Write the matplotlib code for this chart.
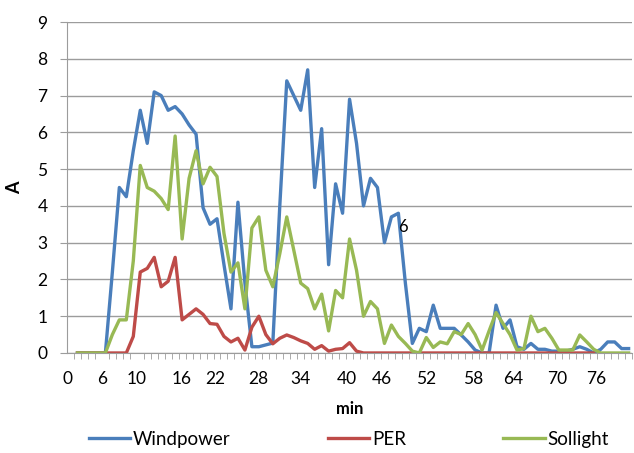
import numpy as np
import matplotlib.pyplot as plt
from matplotlib.ticker import FixedLocator

plt.rcParams['font.family'] = ['Lato', 'DejaVu Sans']

# one value per sampling step (category axis), None = no point
windpower = [None, 0, 0, 0, 0, 0, 2.2, 4.5, 4.25, 5.5, 6.6, 5.7, 7.1, 7.0, 6.6, 6.7, 6.5, 6.2,
             5.95, 3.95, 3.5, 3.65, 2.4, 1.2, 4.1, 1.9, 0.17, 0.17, 0.22, 0.27, 4.0, 7.4, 7.0,
             6.6, 7.7, 4.5, 6.1, 2.4, 4.6, 3.8, 6.9, 5.7, 4.0, 4.75, 4.5, 3.0, 3.7, 3.8, 1.9,
             0.26, 0.67, 0.58, 1.3, 0.67, 0.67, 0.67, 0.49, 0.3, 0.08, 0, 0, 1.3, 0.67, 0.9,
             0.17, 0.1, 0.26, 0.1, 0.1, 0.05, 0.05, 0.05, 0.1, 0.17, 0.1, 0, 0.1, 0.3, 0.3,
             0.12, 0.12]
per = [None, 0, 0, 0, 0, 0, 0, 0, 0, 0.45, 2.2, 2.3, 2.6, 1.8, 1.95, 2.6, 0.9, 1.05, 1.2,
       1.05, 0.8, 0.78, 0.45, 0.3, 0.4, 0.08, 0.7, 1.0, 0.5, 0.25, 0.4, 0.49, 0.42, 0.33,
       0.26, 0.1, 0.2, 0.05, 0.1, 0.12, 0.28, 0.05, 0, 0, 0, 0, 0, 0, 0, 0, 0, 0, 0, 0, 0,
       0, 0, 0, 0, 0, 0, 0, 0, 0, 0, 0, 0, 0, 0, 0, 0, 0, 0, 0, 0, 0, None, None, None,
       None, None]
sollight = [None, 0, 0, 0, 0, 0, 0.5, 0.9, 0.9, 2.5, 5.1, 4.5, 4.4, 4.2, 3.9, 5.9, 3.1, 4.75,
            5.5, 4.6, 5.05, 4.8, 3.25, 2.2, 2.45, 1.2, 3.4, 3.7, 2.25, 1.8, 2.7, 3.7, 2.8, 1.9,
            1.75, 1.2, 1.6, 0.6, 1.7, 1.5, 3.1, 2.25, 1.0, 1.4, 1.2, 0.26, 0.76, 0.45, 0.26,
            0.05, 0, 0.42, 0.15, 0.3, 0.25, 0.58, 0.5, 0.8, 0.5, 0.08, 0.6, 1.1, 0.8, 0.5,
            0.08, 0.12, 1.0, 0.58, 0.67, 0.4, 0.08, 0.08, 0.08, 0.49, 0.3, 0.1, 0, 0, 0, 0, 0]

tick_labels = ['0', '6', '10', '16', '22', '28', '34', '40', '46', '52', '58', '64', '70', '76']
tick_pos = [-0.5, 4.5, 9.5, 15.9, 20.7, 26.9, 32.9, 39.6, 44.6, 51, 57.7, 63.4, 69.7, 75.4]

x = np.arange(len(windpower))

fig = plt.figure(figsize=(6.34, 4.53), dpi=100)
ax = fig.add_axes([0.1057, 0.2208, 0.8913, 0.7306])

ax.plot(x, windpower, color='#4A7EBB', lw=2.4, label='Windpower')
ax.plot(x, per, color='#BE4B48', lw=2.4, label='PER')
ax.plot(x, sollight, color='#98B954', lw=2.4, label='Sollight')

ax.annotate('6', xy=(47, 3.8), xytext=(0, -10), textcoords='offset points',
            ha='left', va='center', fontsize=12)

ax.set_xlim(-0.5, 80.5)
ax.set_ylim(0, 9)
ax.set_yticks(range(10))
ax.set_xticks(tick_pos)
ax.set_xticklabels(tick_labels)
ax.xaxis.set_minor_locator(FixedLocator(np.arange(-0.5, 81, 1)))

ax.grid(axis='y', color='#9c9c9c', lw=1)
ax.set_axisbelow(True)
for s in ['top', 'right']:
    ax.spines[s].set_visible(False)
for s in ['left', 'bottom']:
    ax.spines[s].set_color('#9c9c9c')

ax.tick_params(axis='y', length=5, color='#9c9c9c', pad=9, labelsize=12.5)
ax.tick_params(axis='x', which='major', length=0, pad=13, labelsize=12.5)
ax.tick_params(axis='x', which='minor', length=4, color='#9c9c9c')

ax.set_ylabel('A', fontsize=13, fontweight='bold', labelpad=10)
ax.set_xlabel('min', fontsize=12, fontweight='bold', labelpad=10)

fig.legend(loc='center', bbox_to_anchor=(0.55, 0.03), ncol=3, frameon=False,
           fontsize=13.5, handlelength=2.2, handletextpad=0.15, columnspacing=5.2)

fig.savefig('out.png', dpi=100)
